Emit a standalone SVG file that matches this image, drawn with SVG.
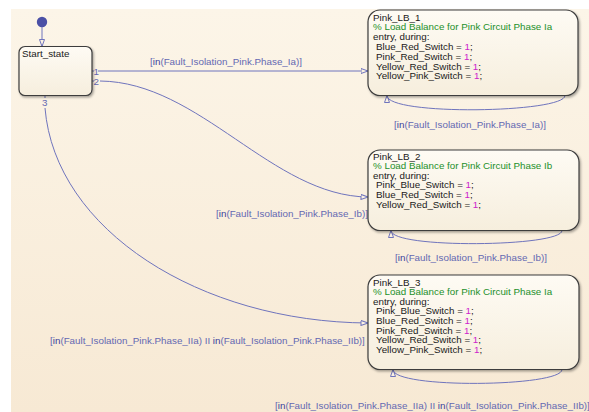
<svg xmlns="http://www.w3.org/2000/svg" width="589" height="412" viewBox="0 0 589 412">
  <defs>
    <linearGradient id="bg" x1="0" y1="0" x2="0" y2="1">
      <stop offset="0" stop-color="#fcf5e8"/>
      <stop offset="1" stop-color="#f7e9d4"/>
    </linearGradient>
    <linearGradient id="stateFill" x1="0" y1="0" x2="0" y2="1">
      <stop offset="0" stop-color="#fefbf4"/>
      <stop offset="1" stop-color="#f6eedd"/>
    </linearGradient>
    <filter id="shadow" x="-10%" y="-10%" width="120%" height="130%">
      <feDropShadow dx="1.2" dy="1.5" stdDeviation="1" flood-color="#000" flood-opacity="0.35"/>
    </filter>
    <marker id="arrow" viewBox="0 0 8 6" refX="7.5" refY="3" markerWidth="8" markerHeight="6" markerUnits="userSpaceOnUse" orient="auto">
      <path d="M0.5,0.5 L7.5,3 L0.5,5.5 Z" fill="#fbf2e2" stroke="#6f74bd" stroke-width="1"/>
    </marker>
  </defs>
  <style>
    .state { fill: url(#stateFill); stroke: #3c3c3c; stroke-width: 1.2; filter: url(#shadow); }
    .t { font-family: "Liberation Sans", Arial, sans-serif; font-size: 9.8px; fill: #1a1a1a; }
    .cm { fill: #23902a; }
    .num { fill: #cc22cc; }
    .lbl { font-family: "Liberation Sans", Arial, sans-serif; font-size: 9.8px; fill: #6368b2; }
    .kw { fill: #3b3f9c; }
    .wire { fill: none; stroke: #6f74bd; stroke-width: 1; marker-end: url(#arrow); }
  </style>

  <!-- chart canvas -->
  <rect x="0" y="0" width="589" height="412" fill="#ffffff"/>
  <rect x="11" y="9" width="578" height="403" fill="url(#bg)"/>

  <!-- transitions -->
  <g id="connectors">
    <circle cx="42" cy="22" r="5.2" fill="#4b50a6"/>
    <path class="wire" d="M42,27 L42,46.5"/>
    <path class="wire" d="M98,71 L368,71"/>
    <path class="wire" d="M100,81 C200,82 272,196 368,197"/>
    <path class="wire" d="M45,108 C55,230 200,322 368,323"/>
    <path class="wire" d="M565,95.5 C565,113 387,116 387,95.5"/>
    <path class="wire" d="M562,230.5 C562,247 391,249 391,230.5"/>
    <path class="wire" d="M562,369.5 C562,387 393,389 393,369.5"/>
    <path d="M92,71 L94,71 M92,81 L94,81 M45,95.5 L45,98" stroke="#6f74bd" stroke-width="1" fill="none"/>
    <text class="lbl" x="93.5" y="74.5">1</text>
    <text class="lbl" x="93.5" y="84.5">2</text>
    <text class="lbl" x="42" y="106">3</text>
    <text class="lbl" x="150" y="65">[<tspan class="kw">in</tspan>(Fault_Isolation_Pink.Phase_Ia)]</text>
    <text class="lbl" x="216" y="217">[<tspan class="kw">in</tspan>(Fault_Isolation_Pink.Phase_Ib)]</text>
    <text class="lbl" x="50" y="344">[<tspan class="kw">in</tspan>(Fault_Isolation_Pink.Phase_IIa) II <tspan class="kw">in</tspan>(Fault_Isolation_Pink.Phase_IIb)]</text>
    <text class="lbl" x="394" y="128">[<tspan class="kw">in</tspan>(Fault_Isolation_Pink.Phase_Ia)]</text>
    <text class="lbl" x="395" y="261">[<tspan class="kw">in</tspan>(Fault_Isolation_Pink.Phase_Ib)]</text>
    <text class="lbl" x="275" y="409">[<tspan class="kw">in</tspan>(Fault_Isolation_Pink.Phase_IIa) II <tspan class="kw">in</tspan>(Fault_Isolation_Pink.Phase_IIb)]</text>
  </g>

  <g id="Start_state">
    <rect class="state" x="19" y="46.5" width="73" height="49" rx="6"/>
    <text class="t" x="22" y="57">Start_state</text>
  </g>

  <g id="Pink_LB_1">
    <rect class="state" x="368" y="10" width="210" height="85.5" rx="12"/>
    <text class="t" x="373" y="20.5">Pink_LB_1</text>
    <text class="t cm" x="373" y="30.3">% Load Balance for Pink Circuit Phase Ia</text>
    <text class="t" x="373" y="40.1">entry, during:</text>
    <text class="t" x="376" y="49.9">Blue_Red_Switch = <tspan class="num">1</tspan>;</text>
    <text class="t" x="376" y="59.7">Pink_Red_Switch = <tspan class="num">1</tspan>;</text>
    <text class="t" x="376" y="69.5">Yellow_Red_Switch = <tspan class="num">1</tspan>;</text>
    <text class="t" x="376" y="79.3">Yellow_Pink_Switch = <tspan class="num">1</tspan>;</text>
  </g>

  <g id="Pink_LB_2">
    <rect class="state" x="368" y="150" width="211" height="80.5" rx="12"/>
    <text class="t" x="373" y="159.5">Pink_LB_2</text>
    <text class="t cm" x="373" y="169.1">% Load Balance for Pink Circuit Phase Ib</text>
    <text class="t" x="373" y="178.7">entry, during:</text>
    <text class="t" x="376" y="188.3">Pink_Blue_Switch = <tspan class="num">1</tspan>;</text>
    <text class="t" x="376" y="197.9">Blue_Red_Switch = <tspan class="num">1</tspan>;</text>
    <text class="t" x="376" y="207.5">Yellow_Red_Switch = <tspan class="num">1</tspan>;</text>
  </g>

  <g id="Pink_LB_3">
    <rect class="state" x="368" y="275" width="211" height="94.5" rx="12"/>
    <text class="t" x="373" y="285.5">Pink_LB_3</text>
    <text class="t cm" x="373" y="295.1">% Load Balance for Pink Circuit Phase Ia</text>
    <text class="t" x="373" y="304.7">entry, during:</text>
    <text class="t" x="376" y="314.3">Pink_Blue_Switch = <tspan class="num">1</tspan>;</text>
    <text class="t" x="376" y="323.9">Blue_Red_Switch = <tspan class="num">1</tspan>;</text>
    <text class="t" x="376" y="333.5">Pink_Red_Switch = <tspan class="num">1</tspan>;</text>
    <text class="t" x="376" y="343.1">Yellow_Red_Switch = <tspan class="num">1</tspan>;</text>
    <text class="t" x="376" y="352.7">Yellow_Pink_Switch = <tspan class="num">1</tspan>;</text>
  </g>
</svg>
